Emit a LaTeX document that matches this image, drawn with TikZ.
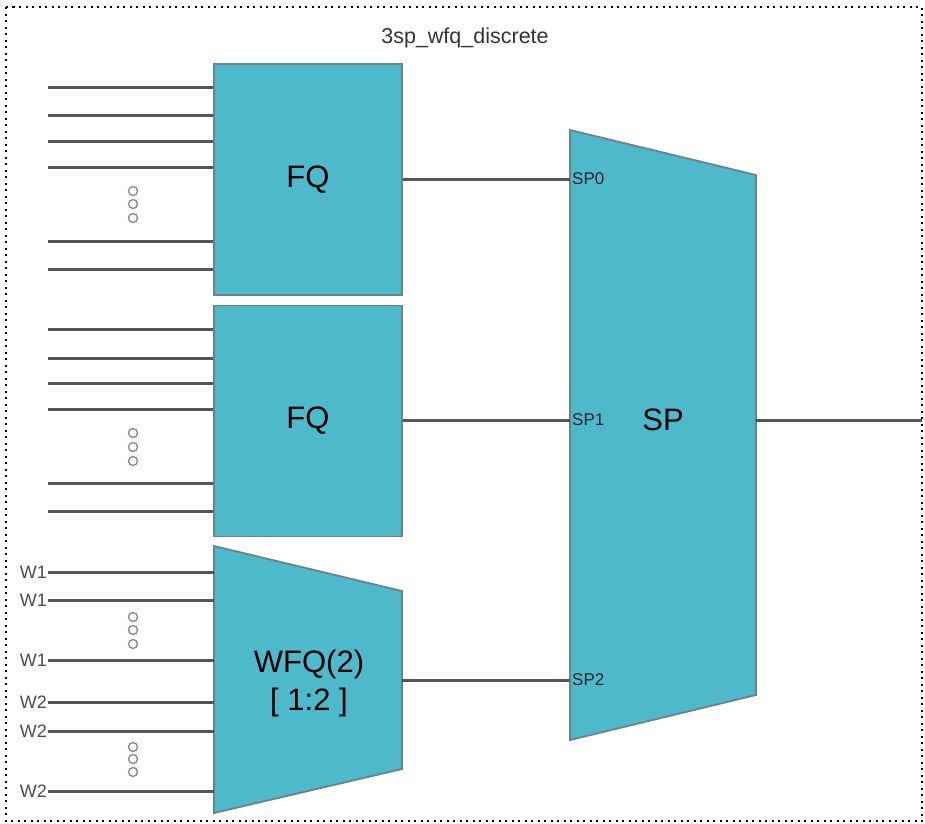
\documentclass[tikz,border=0pt]{standalone}
\usepackage{fontspec}
\setmainfont{Liberation Sans}
\definecolor{schedfill}{RGB}{79,185,204}
\definecolor{scheddraw}{RGB}{104,132,138}
\definecolor{wire}{RGB}{85,85,85}
\tikzset{blk/.style = {rectangle, draw=scheddraw, fill=schedfill, line width=1.8pt, minimum width=188pt, minimum height=231pt, inner sep=0pt, font=\fontsize{31}{36}\selectfont},
         trap/.style = {draw=scheddraw, fill=schedfill, line width=1.8pt},
         big/.style = {align=center, inner sep=0pt, font=\fontsize{31}{38}\selectfont},
         wi/.style = {draw=wire, line width=3pt},
         dt/.style = {circle, draw=black!45, line width=1.4pt, minimum size=9pt, inner sep=0pt},
         wl/.style = {anchor=east, inner sep=1pt, text=black!70, font=\fontsize{18}{20}\selectfont},
         pl/.style = {anchor=west, inner sep=2pt, text=black!85, font=\fontsize{17}{20}\selectfont}}

\begin{document}
\begin{tikzpicture}[x=1pt, y=-1pt]
    \useasboundingbox (0,0) rectangle (925,823);
    \draw[line width=1.5pt, dash pattern=on 2pt off 4.5pt] (6,7) rectangle (922,821);
    \node[text=black!80, font=\fontsize{21.5}{24}\selectfont] (title) at (465,38) {3sp\_wfq\_discrete};

    % inputs of the first FQ
    \coordinate (a1) at (48,87);  \coordinate (a2) at (48,115); \coordinate (a3) at (48,141);
    \coordinate (a4) at (48,167); \coordinate (a5) at (48,241); \coordinate (a6) at (48,269);
    % inputs of the second FQ
    \coordinate (b1) at (48,329); \coordinate (b2) at (48,358); \coordinate (b3) at (48,383);
    \coordinate (b4) at (48,409); \coordinate (b5) at (48,483); \coordinate (b6) at (48,511);
    % weighted inputs
    \coordinate (c1) at (48,572); \coordinate (c2) at (48,600); \coordinate (c3) at (48,660);
    \coordinate (c4) at (48,702); \coordinate (c5) at (48,731); \coordinate (c6) at (48,791);

    \node[blk] (fq1) at (308,179.5) {FQ};
    \node[blk] (fq2) at (308,421) {FQ};
    \draw[trap] (214,546) -- (402,591) -- (402,769) -- (214,813) -- cycle;
    \node[big] (wfq) at (309,683) {WFQ(2)\\{}[ 1:2 ]};
    \coordinate (wfqin) at (214,680); \coordinate (wfqout) at (402,680);

    \draw[trap] (570,130) -- (756,175) -- (756,695) -- (570,740) -- cycle;
    \node[big] (sp) at (663,420) {SP};
    \coordinate (sp0) at (570,179); \coordinate (sp1) at (570,420); \coordinate (sp2) at (570,680);
    \coordinate (spout) at (756,420); \coordinate (out) at (922,420);
    \node[pl] (lsp0) at (sp0) {SP0};
    \node[pl] (lsp1) at (sp1) {SP1};
    \node[pl] (lsp2) at (sp2) {SP2};

    \draw[wi] (a1) -- (a1 -| fq1.west);
    \draw[wi] (a2) -- (a2 -| fq1.west);
    \draw[wi] (a3) -- (a3 -| fq1.west);
    \draw[wi] (a4) -- (a4 -| fq1.west);
    \draw[wi] (a5) -- (a5 -| fq1.west);
    \draw[wi] (a6) -- (a6 -| fq1.west);
    \draw[wi] (b1) -- (b1 -| fq2.west);
    \draw[wi] (b2) -- (b2 -| fq2.west);
    \draw[wi] (b3) -- (b3 -| fq2.west);
    \draw[wi] (b4) -- (b4 -| fq2.west);
    \draw[wi] (b5) -- (b5 -| fq2.west);
    \draw[wi] (b6) -- (b6 -| fq2.west);
    \draw[wi] (c1) -- (c1 -| wfqin);
    \draw[wi] (c2) -- (c2 -| wfqin);
    \draw[wi] (c3) -- (c3 -| wfqin);
    \draw[wi] (c4) -- (c4 -| wfqin);
    \draw[wi] (c5) -- (c5 -| wfqin);
    \draw[wi] (c6) -- (c6 -| wfqin);

    \node[wl] (w1a) at (c1) {W1}; \node[wl] (w1b) at (c2) {W1}; \node[wl] (w1c) at (c3) {W1};
    \node[wl] (w2a) at (c4) {W2}; \node[wl] (w2b) at (c5) {W2}; \node[wl] (w2c) at (c6) {W2};

    \node[dt] (da1) at (133,191) {}; \node[dt] (da2) at (133,204) {}; \node[dt] (da3) at (133,218) {};
    \node[dt] (db1) at (133,433) {}; \node[dt] (db2) at (133,447) {}; \node[dt] (db3) at (133,461) {};
    \node[dt] (dc1) at (133,617) {}; \node[dt] (dc2) at (133,630) {}; \node[dt] (dc3) at (133,644) {};
    \node[dt] (dd1) at (133,747) {}; \node[dt] (dd2) at (133,759) {}; \node[dt] (dd3) at (133,772) {};

    \draw[wi] (fq1.east |- sp0) -- (sp0);
    \draw[wi] (fq2.east |- sp1) -- (sp1);
    \draw[wi] (wfqout) -- (sp2);
    \draw[wi] (spout) -- (out);
\end{tikzpicture}
\end{document}
